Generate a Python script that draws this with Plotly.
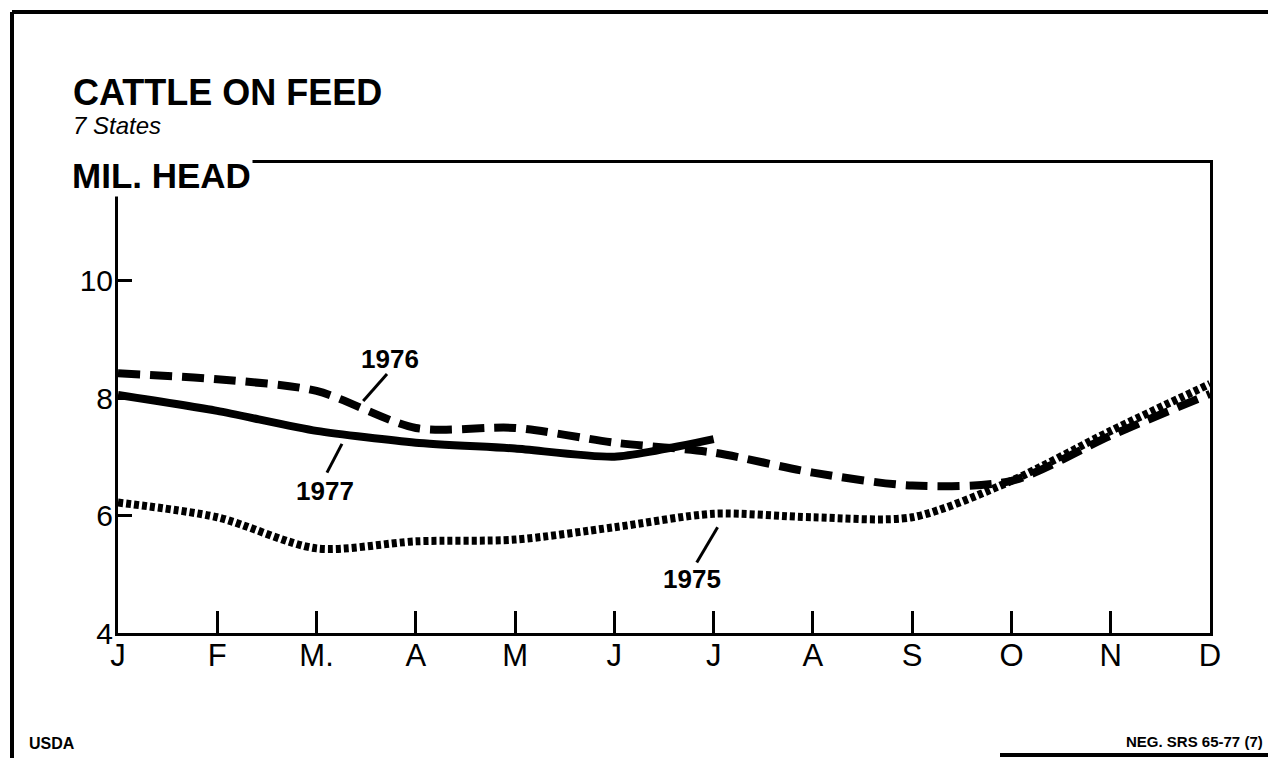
import plotly.graph_objects as go

months = ["J", "F", "M.", "A", "M", "J", "J", "A", "S", "O", "N", "D"]
month_idx = list(range(12))

y1977 = [8.05, 7.78, 7.44, 7.24, 7.14, 7.00, 7.30]
y1976 = [8.42, 8.32, 8.12, 7.49, 7.49, 7.24, 7.07, 6.73, 6.51, 6.59, 7.36, 8.07]
y1975 = [6.22, 5.97, 5.44, 5.56, 5.59, 5.80, 6.03, 5.97, 5.97, 6.59, 7.44, 8.24]

y_ticks = [4, 6, 8, 10]

FONT = "Liberation Sans, Arial, Helvetica, sans-serif"

# page body has an 8px margin; compensate so the picture lines up with the window
OFF = 8
W, H = 1276 - OFF, 758 - OFF
PL, PR, PT, PB = 118, 1210, 163, 633  # plot area in window pixels

fig = go.Figure()
fig.add_trace(go.Scatter(x=month_idx, y=y1975, mode="lines", name="1975",
                         line=dict(color="black", width=8, dash="5px,3px", shape="spline", smoothing=0.8)))
fig.add_trace(go.Scatter(x=month_idx, y=y1976, mode="lines", name="1976",
                         line=dict(color="black", width=8, dash="22px,10px", shape="spline", smoothing=0.8)))
fig.add_trace(go.Scatter(x=month_idx[:len(y1977)], y=y1977, mode="lines", name="1977",
                         line=dict(color="black", width=8, shape="spline", smoothing=0.6)))

fig.update_layout(
    width=W, height=H,
    margin=dict(l=PL - OFF, r=W - (PR - OFF), t=PT - OFF, b=H - (PB - OFF)),
    paper_bgcolor="white", plot_bgcolor="white",
    showlegend=False,
    font=dict(family=FONT, color="black"),
)
fig.update_xaxes(range=[0, 11], tickvals=month_idx, ticktext=months,
                 showgrid=False, zeroline=False,
                 showline=True, linecolor="black", linewidth=3, mirror=True,
                 ticks="inside", ticklen=22, tickwidth=3, tickcolor="black",
                 tickfont=dict(size=31, family=FONT), ticklabelstandoff=-7)
fig.update_yaxes(range=[4, 12], tickvals=y_ticks, ticktext=[str(v) for v in y_ticks],
                 showgrid=False, zeroline=False,
                 showline=True, linecolor="black", linewidth=3, mirror=True,
                 ticks="inside", ticklen=14, tickwidth=3, tickcolor="black",
                 tickfont=dict(size=30, family=FONT), ticklabelstandoff=-4)

# Year labels and leader lines
labels = [("1976", 2.74, 8.66), ("1977", 2.085, 6.42), ("1975", 5.78, 4.92)]
for t, x, y in labels:
    fig.add_annotation(x=x, y=y, text="<b>%s</b>" % t, showarrow=False,
                       font=dict(size=26, family=FONT, color="black"))
leaders = [((2.71, 8.41), (2.47, 7.95)),
           ((2.256, 7.22), (2.105, 6.73)),
           ((6.04, 5.80), (5.83, 5.20))]
for (x0, y0), (x1, y1) in leaders:
    fig.add_shape(type="line", x0=x0, y0=y0, x1=x1, y1=y1, xref="x", yref="y",
                  line=dict(color="black", width=3))

def px(xp):
    return (xp - PL) / (PR - PL)
def py(yp):
    return (PB - yp) / (PB - PT)

# Titles
fig.add_annotation(xref="paper", yref="paper", x=px(72), y=py(93), xanchor="left", yanchor="middle",
                   text="<b>CATTLE ON FEED</b>", showarrow=False, borderpad=0,
                   font=dict(size=36, family=FONT, color="black"))
fig.add_annotation(xref="paper", yref="paper", x=px(72), y=py(125), xanchor="left", yanchor="middle",
                   text="<i>7 States</i>", showarrow=False, borderpad=0,
                   font=dict(size=24, family=FONT, color="black"))
fig.add_annotation(xref="paper", yref="paper", x=px(70), y=py(175), xanchor="left", yanchor="middle",
                   text="<b>MIL. HEAD</b>", showarrow=False, bgcolor="white", borderpad=1,
                   font=dict(size=35, family=FONT, color="black"))

# Footer
fig.add_annotation(xref="paper", yref="paper", x=px(27), y=py(743),
                   xanchor="left", yanchor="middle", text="<b>USDA</b>", showarrow=False,
                   font=dict(size=16, family=FONT, color="black"))
fig.add_annotation(xref="paper", yref="paper", x=px(1265), y=py(741),
                   xanchor="right", yanchor="middle", text="<b>NEG. SRS 65-77 (7)</b>", showarrow=False,
                   font=dict(size=15, family=FONT, color="black"))

# Outer frame
frame = [((12, 12), (1272, 12)), ((12, 12), (12, 758)), ((1272, 12), (1272, 700)),
         ((1000, 755), (1276, 755))]
for (ax0, ay0), (ax1, ay1) in frame:
    fig.add_shape(type="line", xref="paper", yref="paper",
                  x0=px(ax0), y0=py(ay0), x1=px(ax1), y1=py(ay1),
                  line=dict(color="black", width=4))

fig.write_html("out.html")
